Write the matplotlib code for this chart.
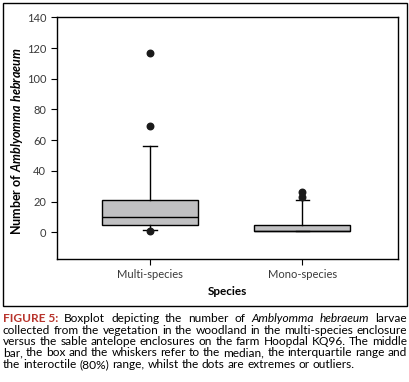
import matplotlib.pyplot as plt
from matplotlib.patches import Rectangle

plt.rcParams['font.family'] = 'Lato'
plt.rcParams['mathtext.fontset'] = 'custom'
plt.rcParams['mathtext.it'] = 'Lato:italic'
plt.rcParams['mathtext.bfit'] = 'Lato:bold:italic'

# data
groups = ["Multi-species", "Mono-species"]
q1 = [4.5, 0.6]
medians = [9.8, 0.6]
q3 = [20.8, 5.0]
whis_lo = [1.5, 0.6]
whis_hi = [56.2, 20.8]
outliers = [[116.8, 69.0, 1.0], [26.5, 22.8]]

stats = []
for i, g in enumerate(groups):
    stats.append({"label": g, "q1": q1[i], "med": medians[i], "q3": q3[i],
                  "whislo": whis_lo[i], "whishi": whis_hi[i], "fliers": outliers[i]})

fig = plt.figure(figsize=(4.1, 3.82), dpi=100)
W, H = 410, 382
ax = fig.add_axes([56.7 / W, 1 - 259 / H, 341 / W, (259 - 17.3) / H])

ax.bxp(stats, positions=[1, 2], widths=0.63, patch_artist=True,
       boxprops=dict(facecolor="#c0c0c2", edgecolor="black", linewidth=1.0),
       medianprops=dict(color="black", linewidth=1.0),
       whiskerprops=dict(color="black", linewidth=1.0),
       capprops=dict(color="black", linewidth=1.0),
       capwidths=0.09,
       flierprops=dict(marker="o", markerfacecolor="#1a1a1a", markeredgecolor="#1a1a1a", markersize=4.7))

ax.set_xlim(0.387, 2.626)
ax.set_ylim(-17.4, 140)
ax.set_yticks(range(0, 141, 20))
ax.tick_params(labelsize=8, labelcolor="#3a3a3a", color="black", length=4, width=0.8)
for s in ax.spines.values():
    s.set_linewidth(1.0)

ax.set_xlabel("Species", fontsize=8.5, fontweight="bold")
ax.xaxis.set_label_coords(0.5, -0.112)
ax.set_ylabel(r"Number of $\mathbfit{Amblyomma\ hebraeum}$", fontsize=9, fontweight="bold", va="center")
ax.yaxis.set_label_coords(-0.115, 0.49)

# frame round the chart
fig.patches.append(Rectangle((3 / W, 1 - 306 / H), 404 / W, 303 / H, transform=fig.transFigure,
                             fill=False, edgecolor="black", linewidth=1.0))

# caption, justified line by line
red = "#b8342c"
lines = [
    [("FIGURE 5:", "bold", red), ("Boxplot", "", "k"), ("depicting", "", "k"), ("the", "", "k"), ("number", "", "k"),
     ("of", "", "k"), ("Amblyomma", "italic", "k"), ("hebraeum", "italic", "k"), ("larvae", "", "k")],
    [(w, "", "k") for w in "collected from the vegetation in the woodland in the multi-species enclosure".split()],
    [(w, "", "k") for w in "versus the sable antelope enclosures on the farm Hoopdal KQ96. The middle".split()],
    [(w, "", "k") for w in "bar, the box and the whiskers refer to the median, the interquartile range and".split()],
    [(w, "", "k") for w in "the interoctile (80%) range, whilst the dots are extremes or outliers.".split()],
]
x0, x1 = 3.0, 407.0
ys = [318.3, 330.0, 341.5, 353.0, 364.5]
fs = 8.6
renderer = fig.canvas.get_renderer()
for li, (line, yy) in enumerate(zip(lines, ys)):
    texts = []
    for word, style, col in line:
        kw = {}
        if style == "bold":
            kw["fontweight"] = "bold"
        if style == "italic":
            kw["fontstyle"] = "italic"
        t = fig.text(0, 1 - yy / H, word, fontsize=fs, color=col, va="center", ha="left", **kw)
        texts.append(t)
    widths = [t.get_window_extent(renderer).width for t in texts]
    if li < len(lines) - 1:
        gap = (x1 - x0 - sum(widths)) / (len(texts) - 1)
    else:
        gap = fs * 100 / 72 * 0.25
    x = x0
    for t, w in zip(texts, widths):
        t.set_x(x / W)
        x += w + gap

fig.savefig("out.png", dpi=100)
